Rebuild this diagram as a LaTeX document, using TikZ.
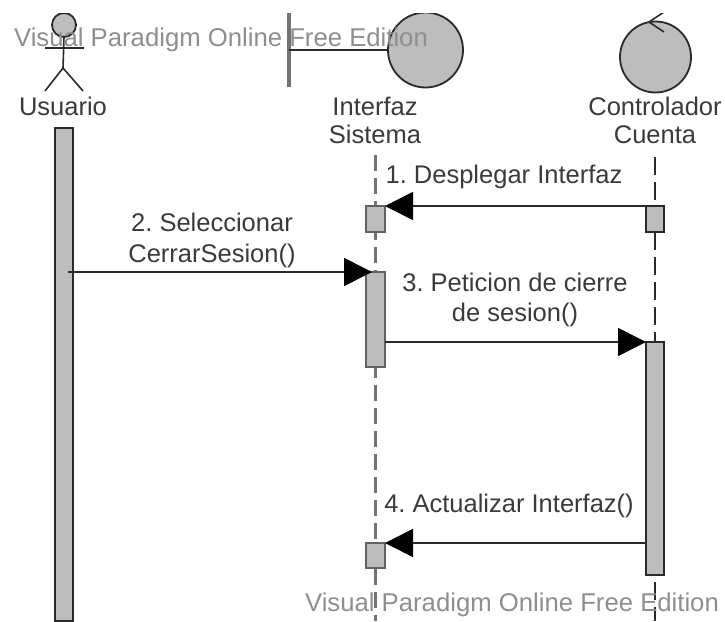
\documentclass[tikz,border=0pt]{standalone}
\usepackage{fontspec}
\setmainfont{Liberation Sans}
\usetikzlibrary{arrows.meta}
\definecolor{barfill}{HTML}{BDBDBD}
\definecolor{ink}{HTML}{2A2A2A}
\definecolor{txt}{HTML}{3A3A3A}
\definecolor{wm}{HTML}{8E8E8E}
\frenchspacing
\tikzset{
  x=1pt,y=-1pt,
  figline/.style={draw=ink,line width=1.6pt},
  figround/.style={draw=ink,line width=1.8pt,fill=barfill},
  bar/.style={draw=ink,line width=1.8pt,fill=barfill,rectangle,anchor=north west,inner sep=0pt,outer sep=0pt},
  graybar/.style={bar,draw=black!62},
  msg/.style={draw=ink,line width=1.7pt,-{Triangle[length=28pt,width=28pt,color=black]}},
  lbl/.style={font=\fontsize{25.5}{28}\selectfont,text=txt,align=center,inner sep=0pt},
  watermark/.style={font=\fontsize{25.7}{28}\selectfont,text=wm,inner sep=0pt},
}
\begin{document}
\begin{tikzpicture}
\useasboundingbox (0,0) rectangle (725,621);
\coordinate (iltop) at (375,155);
\coordinate (ilbot) at (375,621);
\coordinate (cltop) at (655,157);
\coordinate (clbot) at (655,621);
\draw[draw=black!55,line width=3pt,dash pattern=on 16pt off 7pt] (iltop) -- (ilbot);
\draw[draw=ink,line width=1.7pt,dash pattern=on 18pt off 7pt] (cltop) -- (clbot);
\begin{scope}
\clip (0,13) rectangle (725,621);
% actor
\node[figround,circle,minimum size=24pt,inner sep=0pt,outer sep=0pt] (head) at (64,25) {};
\coordinate (hip) at (63,68);
\coordinate (armL) at (45,48);
\coordinate (armR) at (84,48);
\coordinate (legL) at (45,91);
\coordinate (legR) at (83,91);
\draw[figline] (head.south) -- (hip);
\draw[figline] (armL) -- (armR);
\draw[figline] (legL) -- (hip) -- (legR);
% boundary
\node[figround,circle,minimum size=75pt,inner sep=0pt,outer sep=0pt] (bcirc) at (425.5,50) {};
\coordinate (btop) at (289,13);
\coordinate (bbot) at (289,87);
\coordinate (bmid) at (289,50);
\draw[draw=black!55,line width=3.4pt] (btop) -- (bbot);
\draw[figline] (bmid) -- (bcirc.west);
% controller
\node[figround,circle,minimum size=71pt,inner sep=0pt,outer sep=0pt] (ctrl) at (655.5,57) {};
\coordinate (chevA) at (664,12);
\coordinate (chevB) at (649,22);
\coordinate (chevC) at (664,32);
\draw[figline] (chevA) -- (chevB) -- (chevC);
\end{scope}
% labels
\node[lbl] (usr) at (63,106) {Usuario};
\node[lbl] (isys) at (375,120) {Interfaz\\Sistema};
\node[lbl] (ccta) at (655,120) {Controlador\\Cuenta};
% bars
\node[bar,minimum width=18pt,minimum height=493pt] (ub) at (55,128) {};
\node[graybar,minimum width=19pt,minimum height=26pt] (i1) at (366,206) {};
\node[graybar,minimum width=19pt,minimum height=95pt] (i2) at (366,272) {};
\node[graybar,minimum width=19pt,minimum height=25pt] (i3) at (366,543) {};
\node[bar,minimum width=18pt,minimum height=26pt] (c1) at (646,206) {};
\node[bar,minimum width=18pt,minimum height=233pt] (c2) at (646,342) {};
% messages
\coordinate (m2s) at (68,272);
\coordinate (m3s) at (385,342);
\coordinate (m4s) at (646,543);
\draw[msg] (c1.north west) -- (i1.north east);
\draw[msg] (m2s) -- ([xshift=6pt]i2.north west);
\draw[msg] (m3s) -- (c2.north west);
\draw[msg] (m4s) -- (i3.north east);
\node[lbl] (l1) at (504,177) {1. Desplegar Interfaz};
\node[lbl] (l2) at (212,240) {2. Seleccionar\\[3pt]CerrarSesion()};
\node[lbl] (l3) at (515,300) {3. Peticion de cierre\\[2pt]de sesion()};
\node[lbl] (l4) at (509,506) {4. Actualizar Interfaz()};
% watermarks
\node[watermark] (w1) at (221,40) {Visual Paradigm Online Free Edition};
\node[watermark] (w2) at (512,605) {Visual Paradigm Online Free Edition};
\end{tikzpicture}
\end{document}
